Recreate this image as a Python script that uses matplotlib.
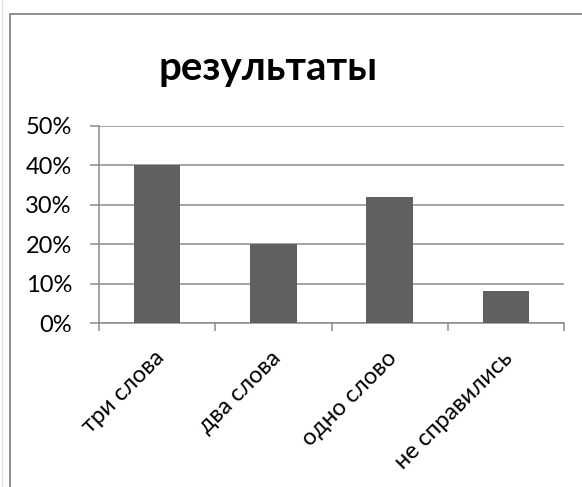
import matplotlib
matplotlib.use("Agg")
import matplotlib.pyplot as plt
from matplotlib.lines import Line2D
from matplotlib.ticker import PercentFormatter, FixedLocator
from matplotlib.transforms import ScaledTranslation
import numpy as np

plt.rcParams['font.family'] = ['Lato', 'DejaVu Sans']

# data
categories = ['три слова', 'два слова', 'одно слово', 'не справились']
values = [0.40, 0.20, 0.32, 0.08]
title = 'результаты'

fig = plt.figure(figsize=(5.82, 4.87), dpi=100)

# chart frame (cut at right and bottom)
fig.add_artist(Line2D([10/582, 10/582, 1], [0, 1 - 14/487, 1 - 14/487],
                      color='#8c8c8c', lw=1.4, transform=fig.transFigure))
fig.add_artist(Line2D([1.5/582, 1.5/582], [0, 1],
                      color='#dedede', lw=1.0, transform=fig.transFigure))

ax = fig.add_axes([99/582, 1 - 323/487, (564 - 99)/582, (323 - 126)/487])
x = np.arange(len(categories))
ax.bar(x, values, width=0.4, color='#606060', zorder=3)

ax.set_xlim(-0.5, len(categories) - 0.5)
ax.set_ylim(0, 0.5)
ax.set_yticks(np.arange(0, 0.51, 0.1))
ax.yaxis.set_major_formatter(PercentFormatter(1.0, decimals=0))
ax.grid(axis='y', color='#8c8c8c', lw=1.1, zorder=0)

for s in ['top', 'right']:
    ax.spines[s].set_visible(False)
ax.spines['left'].set_color('#8c8c8c')
ax.spines['bottom'].set_color('#8c8c8c')
ax.spines['left'].set_linewidth(1.1)
ax.spines['bottom'].set_linewidth(1.1)

ax.tick_params(axis='y', length=6.5, width=1.1, color='#8c8c8c', pad=13, labelsize=17)

# category boundaries as ticks, labels at the centres
ax.xaxis.set_major_locator(FixedLocator(np.arange(-0.5, len(categories), 1.0)))
ax.set_xticklabels([])
ax.set_xticks(x, minor=True)
ax.set_xticklabels(categories, minor=True, rotation=45, ha='right',
                   va='baseline', rotation_mode='anchor', fontsize=17)
ax.tick_params(axis='x', which='major', length=6, width=1.1, color='#8c8c8c')
ax.tick_params(axis='x', which='minor', length=0, pad=26)
shift = ScaledTranslation(6/72, 0, fig.dpi_scale_trans)
for lab in ax.xaxis.get_minorticklabels():
    lab.set_transform(lab.get_transform() + shift)

fig.text(268/582, 1 - 80/487, title, ha='center', va='baseline',
         fontsize=29, fontweight='bold')

fig.savefig('out.png', dpi=100)
